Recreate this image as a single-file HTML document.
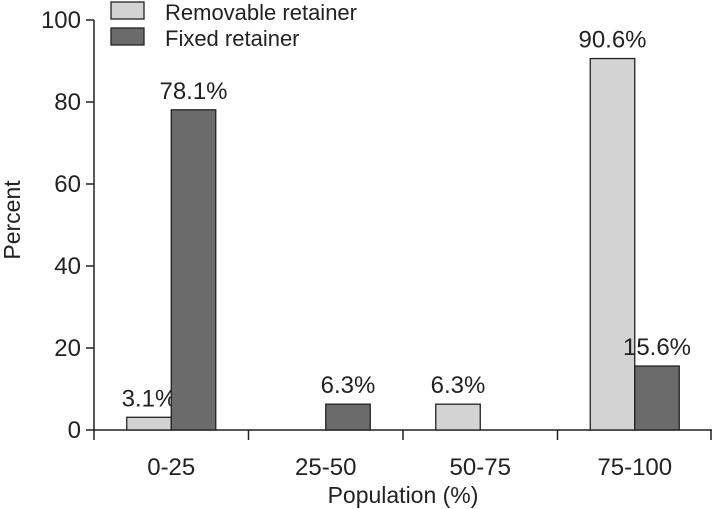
<!DOCTYPE html>
<html><head><meta charset="utf-8"><style>
html,body{margin:0;padding:0;background:#fff;}
svg{display:block;font-family:"Liberation Sans",Arial,sans-serif;}
</style></head><body>
<svg id="chart" width="712" height="509" viewBox="0 0 712 509" xmlns="http://www.w3.org/2000/svg">
<g id="g"></g>
</svg>
<script>
const categories = ["0-25","25-50","50-75","75-100"];
const removable = [3.1, 0, 6.3, 90.6];
const fixed = [78.1, 6.3, 0, 15.6];
const removableLabels = ["3.1%", "", "6.3%", "90.6%"];
const fixedLabels = ["78.1%", "6.3%", "", "15.6%"];
const yTicks = [0,20,40,60,80,100];

const NS="http://www.w3.org/2000/svg";
const g=document.getElementById('g');
const X0=94, GW=154.5, BW=44.5, Y0=430, PPU=4.1;
const y=v=>Y0-v*PPU;
const xg=i=>X0+GW*i+GW/2;
function el(t,a,txt){const e=document.createElementNS(NS,t);for(const k in a)e.setAttribute(k,a[k]);if(txt!==undefined)e.textContent=txt;g.appendChild(e);return e;}

let ax=el('line',{x1:X0,y1:y(100),x2:X0,y2:Y0,stroke:'#222','stroke-width':1.5});


yTicks.forEach(t=>{
  const l=el('line',{x1:X0-8,y1:y(t),x2:X0,y2:y(t),stroke:'#222','stroke-width':1.5});
  
  
  const tx=el('text',{x:X0-13,y:y(t)+8,'text-anchor':'end','font-size':24,fill:'#222'},String(t));
  
  
});
let xa=el('line',{x1:X0,y1:Y0,x2:712,y2:Y0,stroke:'#222','stroke-width':1.5});


for(let i=0;i<=categories.length;i++){
  const xx=Math.min(X0+GW*i,711);
  const l=el('line',{x1:xx,y1:Y0,x2:xx,y2:Y0+10,stroke:'#222','stroke-width':1.5});
  
  
}
categories.forEach((c,i)=>{
  const tx=el('text',{x:xg(i),y:475,'text-anchor':'middle','font-size':24,fill:'#222'},c);
  
  
  [[removable,removableLabels,'#d3d3d3',-BW,'removable'],[fixed,fixedLabels,'#6b6b6b',0,'fixed']].forEach(([arr,labs,col,off,nm])=>{
    const v=arr[i];
    const bx=xg(i)+off;
    if(v>0){
      const r=el('rect',{x:bx,y:y(v),width:BW,height:Y0-y(v),fill:col,stroke:'#222','stroke-width':1.3});
      
      
    }
    if(labs[i]){
      const t=el('text',{x:bx+BW/2,y:y(v)-11,'text-anchor':'middle','font-size':24,fill:'#222'},labs[i]);
      
      
    }
  });
});
let xt=el('text',{x:403,y:503,'text-anchor':'middle','font-size':23,fill:'#222'},'Population (%)');


let yt=el('text',{x:0,y:0,'text-anchor':'middle','font-size':23,fill:'#222',transform:'translate(20,220) rotate(-90)'},'Percent');


[['#d3d3d3','Removable retainer',2],['#6b6b6b','Fixed retainer',28]].forEach(([col,txt,yy])=>{
  const r=el('rect',{x:111,y:yy,width:33,height:17,fill:col,stroke:'#222','stroke-width':1.3});
  
  
  const t=el('text',{x:165,y:yy+18,'font-size':22,fill:'#222'},txt);
  
  
});
</script>
</body></html>
